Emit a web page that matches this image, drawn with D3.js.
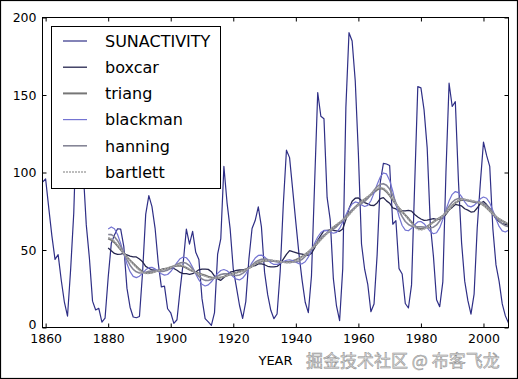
<!DOCTYPE html>
<html><head><meta charset="utf-8">
<script src="https://cdn.jsdelivr.net/npm/d3@7"></script>
<style>body{margin:0;background:#fff}svg{display:block;font-family:"DejaVu Sans",sans-serif}</style>
</head><body><svg id="c" width="518" height="379"></svg>
<script>
// ---- data ----
const years = d3.range(1859, 2009);
const smoothYears = d3.range(1880, 2009);
const sunactivity = [
93.8,95.8,77.2,59.1,44.0,47.0,30.5,16.3,7.3,37.6,
74.0,139.0,111.2,101.6,66.2,44.7,17.0,11.3,12.4,3.4,
6.0,32.3,54.3,59.7,63.7,63.5,52.2,25.4,13.1,6.8,
6.3,7.1,35.6,73.0,85.1,78.0,64.0,41.8,26.2,26.7,
12.1,9.5,2.7,5.0,24.4,42.0,63.5,53.8,62.0,48.5,
43.9,18.6,5.7,3.6,1.4,9.6,47.4,57.1,103.9,80.6,
63.6,37.6,26.1,14.2,5.8,16.7,44.3,63.9,69.0,77.8,
64.9,35.7,21.2,11.1,5.7,8.7,36.1,79.7,114.4,109.6,
88.8,67.8,47.5,30.6,16.3,9.6,33.2,92.6,151.6,136.3,
134.7,83.9,69.4,31.5,13.9,4.4,38.0,141.7,190.2,184.8,
159.0,112.3,53.9,37.6,27.9,10.2,15.1,47.0,93.8,105.9,
105.5,104.5,66.6,68.9,38.0,34.5,15.5,12.6,27.5,92.5,
155.4,154.6,140.4,115.9,66.6,45.9,17.9,13.4,29.4,100.2,
157.6,142.6,145.7,94.3,54.6,29.9,17.5,8.6,21.5,64.3,
93.3,119.6,111.0,104.0,63.7,40.4,29.8,15.2,7.5,2.9];
const boxcar = [
51.3,49.5,47.8,47.2,47.4,47.8,46.8,46.0,45.6,45.5,
44.2,42.4,39.4,38.2,37.1,37.0,36.9,37.3,38.0,38.0,
38.3,38.1,36.9,35.5,34.7,34.7,34.3,34.7,35.8,37.2,
37.7,37.7,37.5,36.0,33.1,31.4,30.4,32.3,34.0,35.7,
36.2,36.8,37.1,37.2,37.7,38.6,39.6,39.9,41.0,41.1,
40.5,39.5,39.1,39.1,39.4,41.0,44.1,47.2,49.6,48.9,
48.3,47.6,47.3,46.8,46.6,47.8,51.3,56.2,59.5,62.5,
62.7,62.9,62.7,62.4,62.1,63.6,69.6,76.6,81.4,83.4,
83.6,82.0,80.6,79.7,78.8,78.7,80.4,83.2,83.8,81.7,
80.2,77.1,76.5,75.0,75.2,75.2,75.6,75.1,72.9,71.3,
70.0,69.1,69.3,69.8,70.2,69.8,69.9,70.6,73.0,75.9,
77.5,79.4,78.9,78.4,76.6,75.7,74.5,74.8,77.1,80.1,
81.3,79.3,77.0,73.5,70.1,68.4,67.0,66.5,66.1];
const triang = [
57.4,56.5,54.9,52.7,50.2,47.7,45.4,43.3,41.3,39.3,
37.5,36.0,35.2,35.1,35.5,36.1,36.7,37.2,37.7,38.2,
38.9,39.5,39.9,40.0,39.4,38.5,37.4,36.4,35.6,34.9,
34.2,33.6,32.8,32.3,32.0,32.0,32.2,32.8,33.5,34.3,
34.9,35.4,36.0,36.6,37.3,38.3,39.5,40.8,42.0,42.6,
43.0,43.1,43.1,42.9,42.7,42.4,42.3,42.2,42.4,42.9,
43.6,44.5,45.8,47.2,48.7,50.4,52.4,54.6,56.9,59.0,
60.9,62.8,64.6,66.1,67.5,68.8,70.7,73.0,75.4,77.6,
79.6,81.3,82.7,84.1,85.6,87.2,88.9,89.8,89.3,87.6,
85.2,82.3,79.5,77.0,74.7,72.5,70.3,67.9,65.6,64.0,
63.6,64.0,65.1,66.6,68.1,69.4,70.7,72.0,73.7,76.1,
78.5,80.4,81.7,82.3,82.2,81.9,81.4,81.0,80.8,80.3,
79.0,77.3,75.3,73.2,71.4,70.0,68.8,67.7,66.6];
const blackman = [
63.6,64.9,63.7,60.0,54.2,47.5,41.1,36.0,33.0,32.2,
33.1,35.1,37.2,38.6,38.8,37.8,36.2,34.7,33.8,34.2,
36.1,38.9,41.9,44.4,45.5,45.0,42.6,38.9,34.6,30.7,
27.9,26.8,27.5,29.5,32.2,34.9,36.8,37.4,36.6,34.8,
32.7,31.2,30.7,31.9,34.5,38.2,41.9,44.8,46.5,46.7,
45.5,43.6,41.8,40.7,40.7,41.4,42.5,43.4,43.7,43.2,
42.2,41.2,41.1,42.4,45.4,49.7,54.4,58.4,61.3,62.6,
62.5,61.5,60.8,61.4,63.9,68.0,72.6,76.7,79.7,81.0,
80.5,79.1,78.1,78.8,81.8,86.7,92.3,97.1,99.7,99.1,
94.9,87.9,79.5,71.6,65.8,62.8,62.4,64.0,66.3,68.1,
68.4,67.0,64.5,61.9,60.5,61.1,64.4,69.7,76.0,81.7,
85.9,87.7,87.0,84.4,81.0,78.5,77.8,78.8,80.8,83.0,
84.2,83.4,80.4,75.5,70.0,65.2,62.3,61.6,62.8];
const hanning = [
60.0,59.9,58.6,56.0,52.3,48.1,43.8,40.2,37.5,35.9,
35.2,35.3,35.7,36.2,36.5,36.5,36.3,36.2,36.4,37.0,
38.1,39.5,40.8,41.7,41.9,41.4,39.9,37.8,35.3,33.0,
31.3,30.4,30.3,31.0,32.1,33.2,34.2,34.6,34.6,34.2,
33.7,33.5,33.9,34.9,36.5,38.4,40.4,42.1,43.3,44.0,
44.1,43.8,43.3,42.8,42.4,42.2,42.1,42.0,42.0,42.1,
42.4,42.9,44.0,45.8,48.1,50.7,53.3,55.8,57.9,59.6,
61.0,62.1,63.4,65.0,67.1,69.5,71.8,74.0,75.9,77.5,
78.8,80.0,81.4,83.3,85.8,88.5,90.9,92.4,92.8,91.8,
89.3,85.3,80.5,75.6,71.5,68.4,66.5,65.4,65.1,65.0,
65.0,64.8,64.4,64.3,64.7,66.2,68.7,71.8,75.1,78.3,
80.8,82.5,83.3,83.2,82.5,81.9,81.5,81.3,81.1,80.8,
80.0,78.7,76.8,74.3,71.5,68.9,66.9,65.6,65.0];
const bartlett = [
58.0,57.3,55.6,53.2,50.5,47.7,45.2,43.0,40.9,38.7,
36.9,35.4,34.8,34.8,35.3,36.0,36.7,37.2,37.6,38.3,
38.9,39.6,40.2,40.4,39.9,38.9,37.7,36.6,35.6,34.7,
33.9,33.1,32.4,31.9,31.8,32.0,32.4,32.8,33.5,34.1,
34.7,35.2,35.8,36.5,37.2,38.2,39.5,40.9,42.1,42.8,
43.2,43.5,43.5,43.3,43.0,42.6,42.1,41.7,41.7,42.3,
43.1,44.2,45.6,47.2,48.9,50.7,52.5,54.4,56.6,58.6,
60.7,62.8,64.7,66.5,68.0,69.4,70.8,72.6,74.8,77.0,
79.2,81.2,82.9,84.5,86.3,88.1,89.7,90.4,89.9,88.2,
85.6,82.8,79.8,77.2,74.7,72.3,69.8,67.2,64.9,63.3,
62.9,63.4,64.7,66.3,67.8,69.4,70.8,72.1,73.8,76.1,
78.6,80.5,82.0,82.7,82.8,82.5,82.1,81.6,81.1,80.3,
78.8,77.1,75.1,73.2,71.6,70.1,69.0,67.9,66.6];
const seriesNames = ["SUNACTIVITY","boxcar","triang","blackman","hanning","bartlett"];
const xTicks = [1860,1880,1900,1920,1940,1960,1980,2000];
const yTicks = [0,50,100,150,200];
const xLabel = "YEAR";
const watermark = "掘金技术社区 @ 布客飞龙";

// ---- styles ----
const styles = {
  SUNACTIVITY:{color:"#2f2f86", width:1.2, dash:null},
  boxcar:{color:"#25254e", width:1.3, dash:null},
  triang:{color:"#767676", width:2.0, dash:null},
  blackman:{color:"#7474d2", width:1.2, dash:null},
  hanning:{color:"#858596", width:1.6, dash:null},
  bartlett:{color:"#a8a8a8", width:1.5, dash:"2,1"}
};

const svg = d3.select("#c");
svg.append("rect").attr("x",0).attr("y",0).attr("width",518).attr("height",379).attr("fill","#fff");

const x = d3.scaleLinear().domain([1859, 2008]).range([42.5, 508.5]);
const y = d3.scaleLinear().domain([0, 200]).range([327.5, 17.5]);

const seriesData = {
  SUNACTIVITY: years.map((yr,i)=>[yr, sunactivity[i]]),
  boxcar: smoothYears.map((yr,i)=>[yr, boxcar[i]]),
  triang: smoothYears.map((yr,i)=>[yr, triang[i]]),
  blackman: smoothYears.map((yr,i)=>[yr, blackman[i]]),
  hanning: smoothYears.map((yr,i)=>[yr, hanning[i]]),
  bartlett: smoothYears.map((yr,i)=>[yr, bartlett[i]])
};

const line = d3.line().x(d=>x(d[0])).y(d=>y(d[1]));
const plot = svg.append("g");
seriesNames.forEach(n=>{
  const s = styles[n];
  plot.append("path").datum(seriesData[n])
    .attr("fill","none").attr("stroke",s.color).attr("stroke-width",s.width)
    .attr("stroke-linejoin","round")
    .attr("stroke-dasharray",s.dash)
    .attr("d",line);
});

// axes
function clean(g){ g.select(".domain").remove(); g.selectAll(".tick line").attr("stroke","#000"); }
svg.append("g").attr("transform",`translate(0,${y(0)})`)
  .call(d3.axisBottom(x).tickValues(xTicks).tickSize(-4).tickPadding(7).tickFormat(d3.format("d")))
  .call(clean)
  .call(g=>g.selectAll("text").attr("font-size",12.5).attr("font-family","DejaVu Sans").attr("fill","#000"));
svg.append("g").attr("transform",`translate(0,${y(200)})`)
  .call(d3.axisTop(x).tickValues(xTicks).tickSize(-4).tickFormat(""))
  .call(clean);
svg.append("g").attr("transform",`translate(${x(1859)},0)`)
  .call(d3.axisLeft(y).tickValues(yTicks).tickSize(-4).tickPadding(6))
  .call(clean)
  .call(g=>g.selectAll("text").attr("font-size",12.5).attr("font-family","DejaVu Sans").attr("fill","#000")
    .attr("dy", d => d === 0 ? "0.1em" : "0.32em"));
svg.append("g").attr("transform",`translate(${x(2008)},0)`)
  .call(d3.axisRight(y).tickValues(yTicks).tickSize(-4).tickFormat(""))
  .call(clean);

// frame
svg.append("rect").attr("x",x(1859)).attr("y",y(200))
  .attr("width",x(2008)-x(1859)).attr("height",y(0)-y(200))
  .attr("fill","none").attr("stroke","#000").attr("stroke-width",1);

// legend
const lg = svg.append("g");
lg.append("rect").attr("x",51.5).attr("y",26.5).attr("width",169).attr("height",162)
  .attr("fill","#fff").attr("stroke","#000").attr("stroke-width",1);
seriesNames.forEach((n,i)=>{
  const yy = 41 + i*26.2;
  const s = styles[n];
  lg.append("line").attr("x1",63).attr("x2",87).attr("y1",yy).attr("y2",yy)
    .attr("stroke",s.color).attr("stroke-width",s.width).attr("stroke-dasharray",s.dash);
  lg.append("text").attr("x",105).attr("y",yy).attr("dy","0.36em")
    .attr("font-size",16).attr("fill","#000").text(n);
});

// x label
svg.append("text").attr("x",275.5).attr("y",364.5).attr("text-anchor","middle")
  .attr("font-size",13).attr("fill","#000").text(xLabel);

// watermark
svg.append("text").attr("x",306).attr("y",366.5)
  .attr("font-family","'Noto Sans CJK SC', sans-serif").attr("font-size",17)
  .attr("fill","#dadada").attr("stroke","#8e8e8e").attr("stroke-width",0.5)
  .text(watermark);

// outer border
svg.append("rect").attr("x",0.5).attr("y",0.5).attr("width",517).attr("height",378)
  .attr("fill","none").attr("stroke","#000").attr("stroke-width",1.2);
</script></body></html>
